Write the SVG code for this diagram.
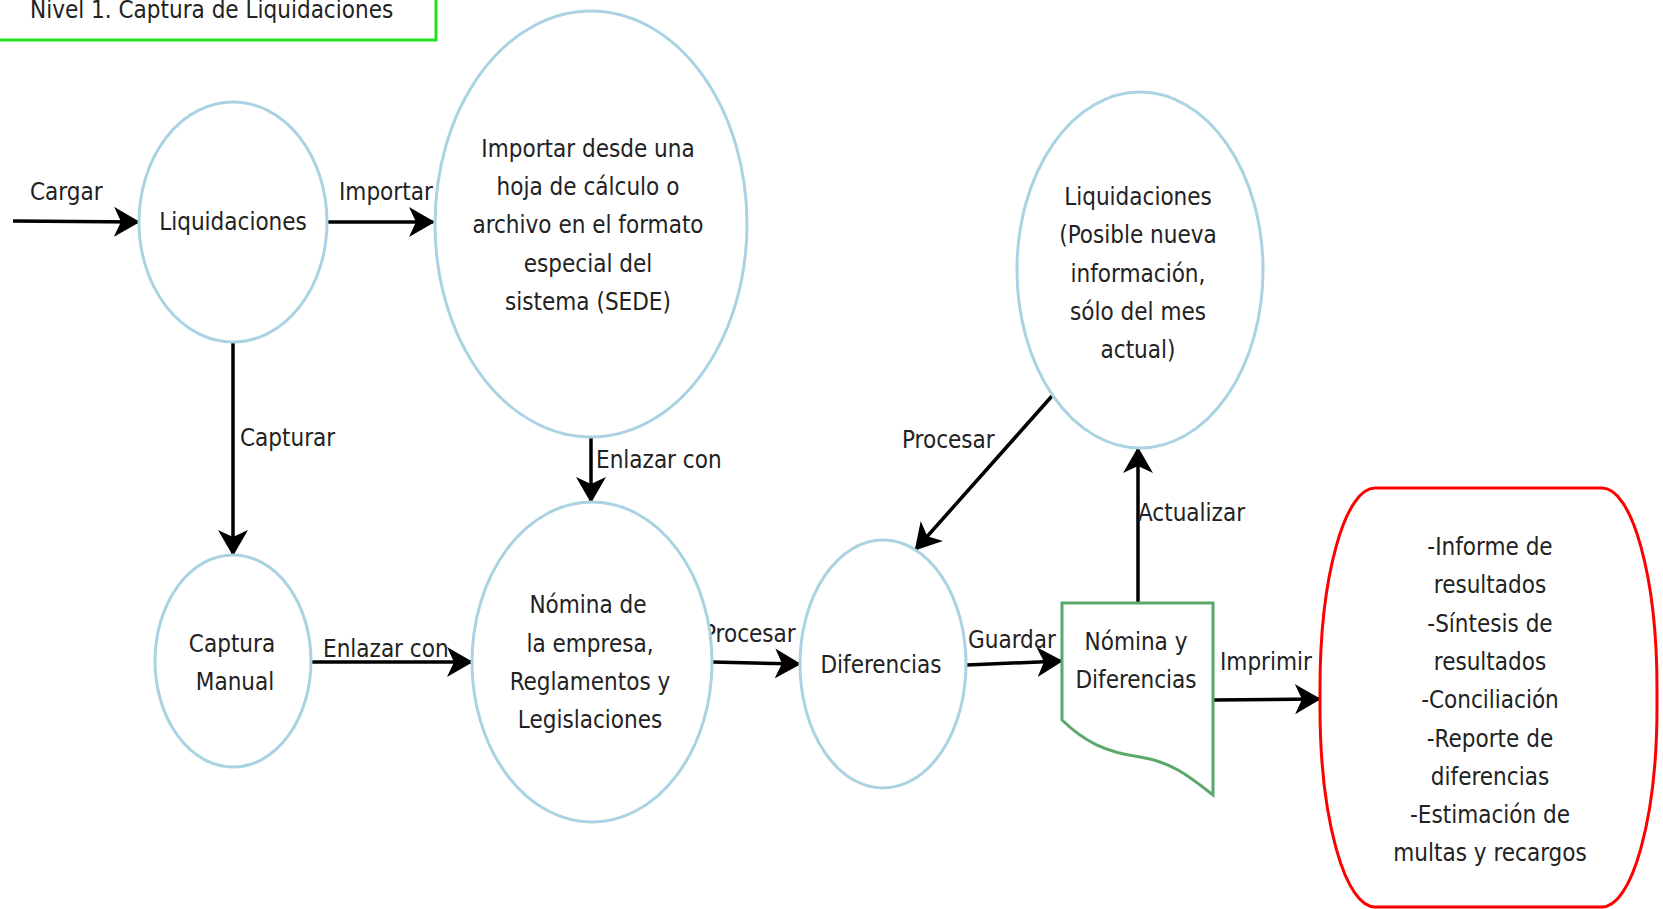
<svg xmlns="http://www.w3.org/2000/svg" width="1663" height="909" viewBox="0 0 1663 909">
<style>
text{font-family:"DejaVu Sans Condensed","DejaVu Sans",sans-serif;font-stretch:condensed;font-size:24px;fill:#222}
.c{text-anchor:middle}
.ell{fill:#fff;stroke:#a9d3e3;stroke-width:3}
.edge{fill:none;stroke:#000;stroke-width:3.5;marker-end:url(#arr)}
</style>
<defs>
<marker id="arr" markerUnits="userSpaceOnUse" markerWidth="26" markerHeight="30" refX="24" refY="15" orient="auto" viewBox="0 0 26 30">
<path d="M0,0 L26,15 L0,30 L7,15 Z" fill="#000"/>
</marker>
</defs>
<rect width="1663" height="909" fill="#fff"/>
<g id="title">
<rect x="-5" y="-5" width="441" height="45" fill="#fff" stroke="#22e022" stroke-width="3"/>
<text x="30" y="18">Nivel 1. Captura de Liquidaciones</text>
</g>
<g id="connectors">
<line class="edge" x1="13" y1="221" x2="138" y2="222"/>
<text x="30" y="200">Cargar</text>
<line class="edge" x1="327" y1="222" x2="433" y2="222"/>
<text x="339" y="200">Importar</text>
<line class="edge" x1="233" y1="343" x2="233" y2="554"/>
<text x="240" y="446">Capturar</text>
<line class="edge" x1="591" y1="437" x2="591" y2="501"/>
<text x="596" y="468">Enlazar con</text>
<line class="edge" x1="312" y1="662" x2="471" y2="662"/>
<text x="323" y="657">Enlazar con</text>
<line class="edge" x1="712" y1="662" x2="799" y2="664"/>
<text x="703" y="642">Procesar</text>
<line class="edge" x1="1052" y1="396" x2="916" y2="549"/>
<text x="902" y="448">Procesar</text>
<line class="edge" x1="967" y1="665" x2="1061" y2="661"/>
<text x="968" y="648">Guardar</text>
<line class="edge" x1="1138" y1="603" x2="1138" y2="449"/>
<text x="1138" y="521">Actualizar</text>
<line class="edge" x1="1213" y1="700" x2="1319" y2="699"/>
<text x="1220" y="670">Imprimir</text>
</g>
<g id="liquidaciones">
<ellipse class="ell" cx="233" cy="222" rx="94" ry="120"/>
<text class="c" x="233" y="230">Liquidaciones</text>
</g>
<g id="importar">
<ellipse class="ell" cx="591" cy="224" rx="156" ry="213"/>
<text class="c" x="588" y="157">Importar desde una</text>
<text class="c" x="588" y="195">hoja de cálculo o</text>
<text class="c" x="588" y="233">archivo en el formato</text>
<text class="c" x="588" y="272">especial del</text>
<text class="c" x="588" y="310">sistema (SEDE)</text>
</g>
<g id="liquidaciones-nueva">
<ellipse class="ell" cx="1140" cy="270" rx="123" ry="178"/>
<text class="c" x="1138" y="205">Liquidaciones</text>
<text class="c" x="1138" y="243">(Posible nueva</text>
<text class="c" x="1138" y="282">información,</text>
<text class="c" x="1138" y="320">sólo del mes</text>
<text class="c" x="1138" y="358">actual)</text>
</g>
<g id="captura-manual">
<ellipse class="ell" cx="233" cy="661" rx="78" ry="106"/>
<text class="c" x="232" y="652">Captura</text>
<text class="c" x="235" y="690">Manual</text>
</g>
<g id="nomina">
<ellipse class="ell" cx="592" cy="662" rx="120" ry="160"/>
<text class="c" x="588" y="613">Nómina de</text>
<text class="c" x="590" y="652">la empresa,</text>
<text class="c" x="590" y="690">Reglamentos y</text>
<text class="c" x="590" y="728">Legislaciones</text>
</g>
<g id="diferencias">
<ellipse class="ell" cx="883" cy="664" rx="83" ry="124"/>
<text class="c" x="881" y="673">Diferencias</text>
</g>
<g id="nomina-diferencias">
<path d="M1062,603 H1213 V795 C1190,777 1172,762 1140,757 C1105,752 1085,742 1062,720 Z" fill="#fff" stroke="#5aa96b" stroke-width="3"/>
<text class="c" x="1136" y="650">Nómina y</text>
<text class="c" x="1136" y="688">Diferencias</text>
</g>
<g id="reportes">
<rect x="1320" y="488" width="337" height="419" rx="55" ry="200" fill="#fff" stroke="#f00" stroke-width="3"/>
<text class="c" x="1490" y="555">-Informe de</text>
<text class="c" x="1490" y="593">resultados</text>
<text class="c" x="1490" y="632">-Síntesis de</text>
<text class="c" x="1490" y="670">resultados</text>
<text class="c" x="1490" y="708">-Conciliación</text>
<text class="c" x="1490" y="747">-Reporte de</text>
<text class="c" x="1490" y="785">diferencias</text>
<text class="c" x="1490" y="823">-Estimación de</text>
<text class="c" x="1490" y="861">multas y recargos</text>
</g>
</svg>
